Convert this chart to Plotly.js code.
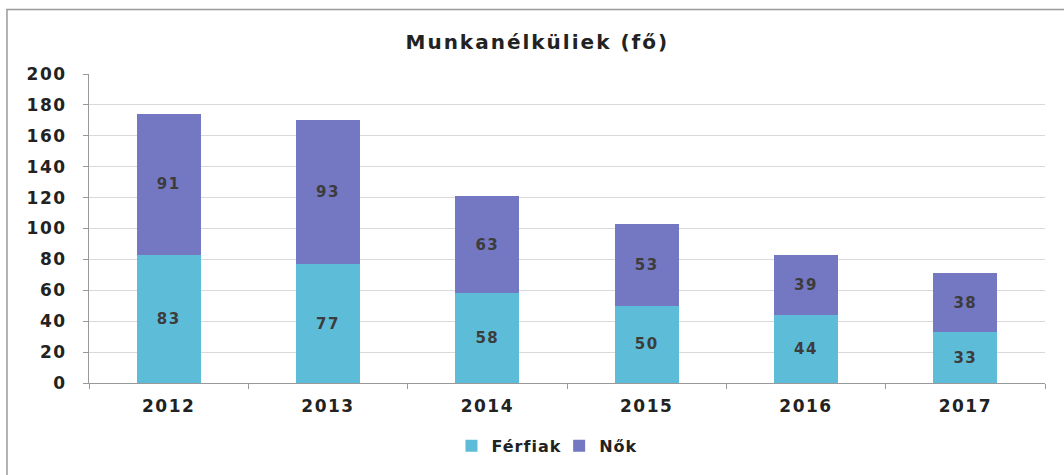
<!DOCTYPE html>
<html><head><meta charset="utf-8">
<script src="https://cdn.plot.ly/plotly-3.0.1.min.js"></script>
<style>
body{margin:0;background:#fff}
#chart{width:1064px;height:475px}
#chart .gtitle{letter-spacing:2px}
#chart .xtick text,#chart .ytick text{letter-spacing:1.5px}
#chart .legendtext{letter-spacing:1px}
#chart .bartext{letter-spacing:1.5px}
</style>
</head><body><div id="chart"></div>
<script>
const years = ['2012','2013','2014','2015','2016','2017'];
const ferfiak = [83, 77, 58, 50, 44, 33];
const nok = [91, 93, 63, 53, 39, 38];
const yTicks = [0,20,40,60,80,100,120,140,160,180,200];

const labelFont = {family:'DejaVu Sans', size:15, color:'#3c3c3c', weight:'bold'};
const traces = [
  {type:'bar', name:'Férfiak', x:years, y:ferfiak, marker:{color:'#5dbcd8'},
   text:ferfiak.map(String), textposition:'inside', insidetextanchor:'middle', textfont:labelFont, hoverinfo:'none'},
  {type:'bar', name:'Nők', x:years, y:nok, marker:{color:'#7477c2'},
   text:nok.map(String), textposition:'inside', insidetextanchor:'middle', textfont:labelFont, hoverinfo:'none'}
];
const tickFont = {family:'DejaVu Sans', size:17, color:'#222', weight:'bold'};
const layout = {
  width:1064, height:475,
  margin:{l:89, r:19, t:74, b:90},
  paper_bgcolor:'#fff', plot_bgcolor:'#fff',
  barmode:'stack', bargap:0.6,
  font:{family:'DejaVu Sans', color:'#222'},
  title:{text:'<b>Munkanélküliek (fő)</b>', x:0.505, xanchor:'center', y:0.912, yanchor:'middle',
         font:{family:'DejaVu Sans', size:20, color:'#222'}},
  xaxis:{type:'category', showline:true, linecolor:'#999', linewidth:1, ticks:'outside', tickson:'boundaries',
         ticklen:5, tickcolor:'#999', tickfont:tickFont, ticklabelstandoff:8, showgrid:false},
  yaxis:{range:[0,200], tickvals:yTicks, showline:true, linecolor:'#999', linewidth:1, ticks:'outside', ticklen:5,
         tickcolor:'#999', gridcolor:'#d9d9d9', zeroline:false, tickfont:tickFont, ticklabelstandoff:13},
  showlegend:true,
  legend:{orientation:'h', x:0.478, xanchor:'center', y:-0.203, yanchor:'middle',
          font:{family:'DejaVu Sans', size:16, color:'#222', weight:'bold'}, itemwidth:30, traceorder:'normal'},
  shapes:[{type:'rect', xref:'paper', yref:'paper', x0:-0.0858, x1:1.03, y0:-0.32, y1:1.209,
           line:{color:'#999', width:1.5}, fillcolor:'rgba(0,0,0,0)'}]
};
Plotly.newPlot('chart', traces, layout, {displayModeBar:false, staticPlot:true});
</script></body></html>
